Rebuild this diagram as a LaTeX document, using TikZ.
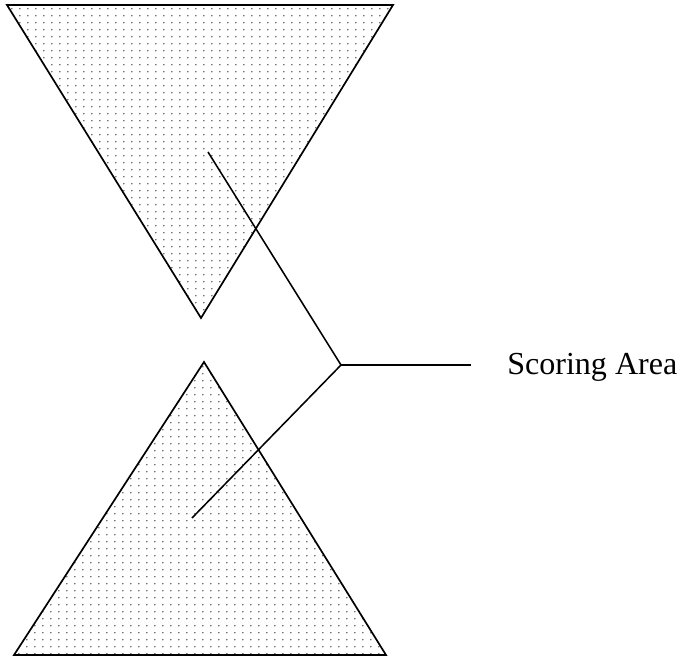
\documentclass[tikz,border=0pt]{standalone}
\usepackage{fontspec}
\setmainfont{Liberation Serif}
\usepackage{tikz}
\usetikzlibrary{positioning,patterns.meta}
\tikzdeclarepattern{
  name=scoredots,
  type=uncolored,
  bounding box={(0,0) and (5.6pt,4.8pt)},
  tile size={(5.6pt,4.8pt)},
  code={\fill (2.8pt,2.4pt) circle (0.62pt);}
}
\tikzset{
  area/.style={
    draw=black,
    line width=1.2pt,
    line join=miter,
    pattern=scoredots,
    pattern color=black!75
  },
  leader/.style={
    draw=black,
    line width=1.1pt
  },
  label text/.style={
    inner sep=0pt,
    font=\fontsize{22.8}{27}\selectfont
  }
}
\begin{document}
\begin{tikzpicture}[x=0.025cm,y=-0.025cm]
  \useasboundingbox (0,0) rectangle (685,657);
  % Upper scoring triangle
  \coordinate (tl) at (7,5);
  \coordinate (tr) at (393,5);
  \coordinate (tt) at (201,318);
  \filldraw[area] (tl) -- (tr) -- (tt) -- cycle;

  % Lower scoring triangle
  \coordinate (bl) at (14,655);
  \coordinate (br) at (386,655);
  \coordinate (bt) at (204,362);
  \filldraw[area] (bl) -- (br) -- (bt) -- cycle;

  % Leader lines
  \coordinate (hub) at (341,365);
  \coordinate (upin) at (208,152);
  \coordinate (lowin) at (192,518);
  \coordinate (tail) at (471,365);
  \node[label text, anchor=base west] (score) at (507,374) {Scoring Area};

  \draw[leader] (upin) -- (hub);
  \draw[leader] (lowin) -- (hub);
  \draw[leader] (hub) -- (tail);
\end{tikzpicture}
\end{document}
